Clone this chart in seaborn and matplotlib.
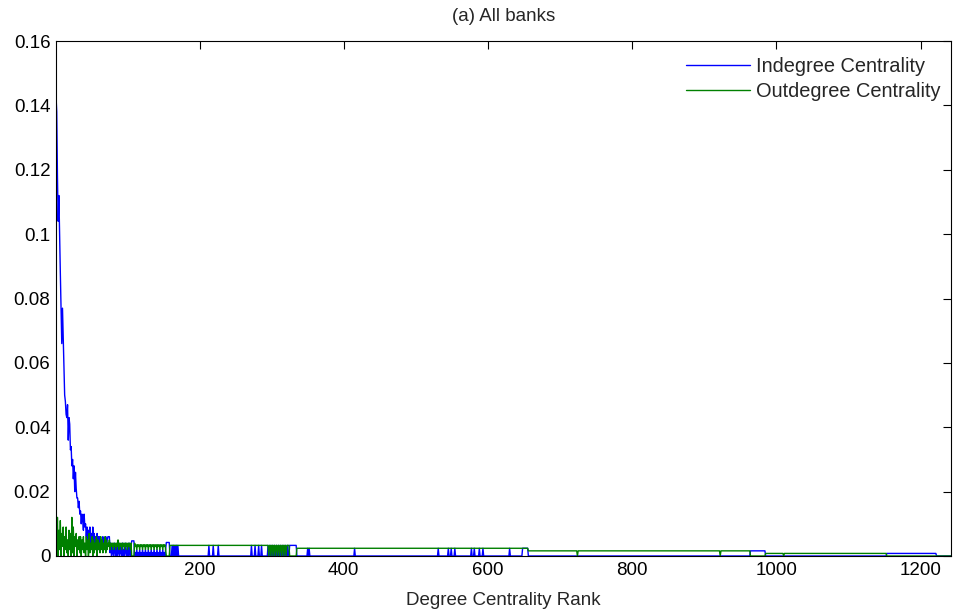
import numpy as np
import pandas as pd
import seaborn as sns
import matplotlib
matplotlib.use('Agg')
import matplotlib.pyplot as plt

# Number of banks (ranks run 1..n_banks)
n_banks = 1242

# Ranks 1-160
indegree_head = [
    0.143, 0.138, 0.118, 0.104, 0.112, 0.099, 0.088, 0.077, 0.066, 0.077,
    0.068, 0.058, 0.050, 0.048, 0.044, 0.043, 0.047, 0.036, 0.043, 0.041,
    0.033, 0.034, 0.028, 0.030, 0.024, 0.028, 0.020, 0.026, 0.021, 0.018,
    0.018, 0.015, 0.017, 0.013, 0.014, 0.010, 0.013, 0.011, 0.008, 0.013,
    0.009, 0.010, 0.006, 0.009, 0.005, 0.008, 0.005, 0.009, 0.004, 0.007,
    0.003, 0.009, 0.004, 0.007, 0.003, 0.006, 0.004, 0.007, 0.002, 0.006,
    0.003, 0.006, 0.002, 0.005, 0.003, 0.006, 0.002, 0.005, 0.003, 0.006,
    0.002, 0.005, 0.006, 0.006, 0.006, 0.001, 0.004, 0.000, 0.003, 0.001,
    0.000, 0.004, 0.001, 0.000, 0.003, 0.000, 0.004, 0.001, 0.000, 0.003,
    0.001, 0.000, 0.004, 0.000, 0.002, 0.000, 0.004, 0.001, 0.000, 0.003,
    0.000, 0.004, 0.001, 0.000, 0.003, 0.0047, 0.0047, 0.0047, 0.0047, 0.000,
    0.001, 0.000, 0.002, 0.000, 0.001, 0.000, 0.002, 0.000, 0.001, 0.000,
    0.002, 0.000, 0.001, 0.000, 0.002, 0.000, 0.001, 0.000, 0.002, 0.000,
    0.001, 0.000, 0.002, 0.000, 0.001, 0.000, 0.002, 0.000, 0.001, 0.000,
    0.002, 0.000, 0.001, 0.000, 0.002, 0.000, 0.001, 0.000, 0.002, 0.000,
    0.001, 0.000, 0.002, 0.0042, 0.0042, 0.0042, 0.0042, 0.0042, 0.000, 0.000,
]
outdegree_head = [
    0.010, 0.001, 0.012, 0.000, 0.008, 0.002, 0.011, 0.000, 0.007, 0.003,
    0.009, 0.000, 0.006, 0.002, 0.009, 0.001, 0.005, 0.000, 0.008, 0.002,
    0.007, 0.000, 0.012, 0.001, 0.009, 0.000, 0.006, 0.003, 0.007, 0.000,
    0.005, 0.002, 0.006, 0.001, 0.006, 0.000, 0.005, 0.002, 0.006, 0.001,
    0.004, 0.000, 0.006, 0.002, 0.005, 0.000, 0.007, 0.001, 0.004, 0.002,
    0.006, 0.000, 0.005, 0.001, 0.004, 0.002, 0.006, 0.000, 0.005, 0.002,
    0.004, 0.001, 0.006, 0.002, 0.005, 0.001, 0.004, 0.002, 0.006, 0.001,
    0.005, 0.002, 0.004, 0.003, 0.005, 0.002, 0.004, 0.003, 0.004, 0.002,
    0.004, 0.003, 0.004, 0.002, 0.004, 0.003, 0.005, 0.002, 0.004, 0.003,
    0.004, 0.002, 0.004, 0.003, 0.004, 0.002, 0.004, 0.003, 0.004, 0.002,
    0.004, 0.003, 0.004, 0.002, 0.004, 0.000, 0.000, 0.000, 0.000, 0.004,
    0.003, 0.0035, 0.002, 0.0035, 0.003, 0.0035, 0.002, 0.0035, 0.003, 0.0035,
    0.002, 0.0035, 0.003, 0.0035, 0.002, 0.0035, 0.003, 0.0035, 0.002, 0.0035,
    0.003, 0.0035, 0.002, 0.0035, 0.003, 0.0035, 0.002, 0.0035, 0.003, 0.0035,
    0.002, 0.0035, 0.003, 0.0035, 0.002, 0.0035, 0.003, 0.0035, 0.002, 0.0035,
    0.003, 0.0035, 0.002, 0.000, 0.000, 0.000, 0.000, 0.000, 0.0033, 0.0033,
]

# Ranks 161+ are flat steps: segment start rank and level
indegree_seg_start = [161, 325, 335, 648, 656, 964, 985, 1153, 1222]
indegree_seg_level = [0.0, 0.0033, 0.0, 0.0024, 0.0, 0.0016, 0.0, 0.0008, 0.0]
outdegree_seg_start = [161, 325, 335, 656, 964, 985, 1153]
outdegree_seg_level = [0.0033, 0.0, 0.0024, 0.0016, 0.0, 0.0008, 0.0]

# single-rank blips in the tail
indegree_spikes = [162, 164, 166, 168, 170, 213, 219, 226, 272, 277, 282, 286,
                   295, 298, 301, 304, 307, 310, 313, 316, 319, 322, 350, 352,
                   415, 531, 545, 549, 554, 577, 581, 588, 593, 630]
outdegree_dips = [296, 299, 302, 305, 308, 311, 314, 317, 320, 724, 922, 1010]


def build(head, seg_start, seg_level):
    ends = seg_start[1:] + [n_banks + 1]
    lengths = [e - s for s, e in zip(seg_start, ends)]
    tail = np.repeat(seg_level, lengths)
    return np.concatenate([np.array(head, dtype=float), tail])


indeg = build(indegree_head, indegree_seg_start, indegree_seg_level)
outdeg = build(outdegree_head, outdegree_seg_start, outdegree_seg_level)
for r in indegree_spikes:
    indeg[r - 1] = outdeg[r - 1]
for r in outdegree_dips:
    outdeg[r - 1] = 0.0

df = pd.DataFrame({'rank': np.arange(1, n_banks + 1),
                   'indegree': indeg,
                   'outdegree': outdeg})

sns.set_style('white')
plt.rcParams['font.family'] = ['Liberation Sans', 'DejaVu Sans']

fig = plt.figure(figsize=(9.69, 6.16), dpi=100)
ax = fig.add_axes([56 / 969, 60 / 616, 895 / 969, 515 / 616])

sns.lineplot(data=df, x='rank', y='indegree', color='#0000ff', linewidth=1.0,
             label='Indegree Centrality', ax=ax, estimator=None)
sns.lineplot(data=df, x='rank', y='outdegree', color='#008000', linewidth=1.0,
             label='Outdegree Centrality', ax=ax, estimator=None)

ax.set_xlim(1, n_banks)
ax.set_ylim(0, 0.16)
ax.set_xticks([200, 400, 600, 800, 1000, 1200])
ax.set_yticks([0, 0.02, 0.04, 0.06, 0.08, 0.1, 0.12, 0.14, 0.16])
ax.set_yticklabels(['0', '0.02', '0.04', '0.06', '0.08', '0.1', '0.12', '0.14', '0.16'])
ax.tick_params(direction='in', length=6, width=0.8, top=True, right=True,
               labelsize=13.5, colors='black', pad=4)
for s in ax.spines.values():
    s.set_color('black')
    s.set_linewidth(0.8)

ax.set_xlabel('Degree Centrality Rank', fontsize=13.5, labelpad=10)
ax.set_ylabel('')
ax.set_title('(a) All banks', fontsize=13.5, pad=14.5)

ax.legend(loc='upper right', bbox_to_anchor=(1.0, 0.988), frameon=False,
          fontsize=14.4, handlelength=3.2, handletextpad=0.35,
          labelspacing=0.28, borderaxespad=0.1)

fig.savefig('out.png', dpi=100)
